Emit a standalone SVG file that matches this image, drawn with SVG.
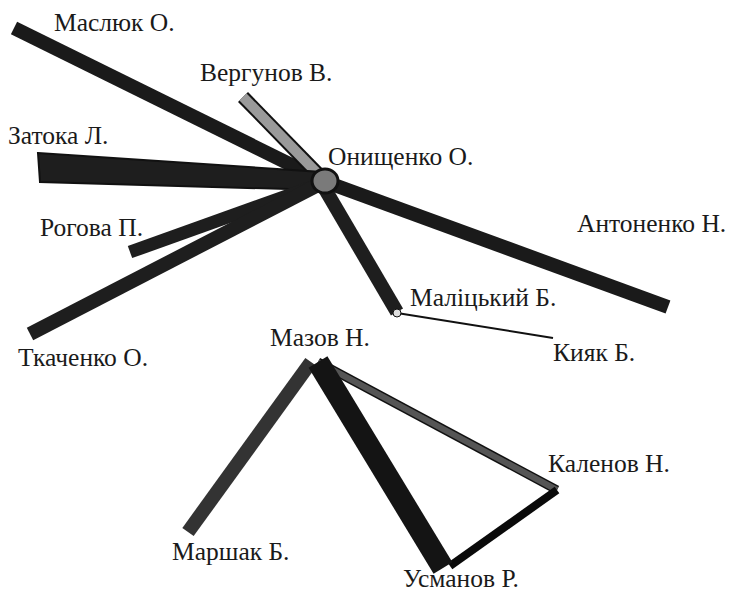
<svg xmlns="http://www.w3.org/2000/svg" width="730" height="593" viewBox="0 0 730 593">
<style>
.lbl{font-family:"Liberation Serif","Times New Roman",serif;font-size:25.5px;fill:#1a1a1a}
.e{stroke-linecap:butt;fill:none}
</style>
<rect width="730" height="593" fill="#fff"/>
<g id="connectors">
<line class="e" x1="14" y1="28" x2="322" y2="180" stroke="#1a1a1a" stroke-width="14"/>
<line class="e" x1="243" y1="97" x2="320" y2="176" stroke="#111" stroke-width="14"/>
<line class="e" x1="243" y1="97" x2="320" y2="176" stroke="#9a9a9a" stroke-width="10"/>
<polygon points="38,153 322,172 322,190 40,182" fill="#1e1e1e" stroke="#111" stroke-width="2"/>
<line class="e" x1="130" y1="252" x2="320" y2="184" stroke="#1e1e1e" stroke-width="13"/>
<line class="e" x1="30" y1="334" x2="320" y2="184" stroke="#1e1e1e" stroke-width="14"/>
<line class="e" x1="326" y1="182" x2="668" y2="307" stroke="#1a1a1a" stroke-width="14"/>
<line class="e" x1="322" y1="184" x2="397" y2="312" stroke="#1e1e1e" stroke-width="14"/>
<line x1="397" y1="313" x2="553" y2="338" stroke="#111" stroke-width="2"/>
<line class="e" x1="311" y1="362" x2="188" y2="532" stroke="#333" stroke-width="14"/>
<line class="e" x1="318" y1="362" x2="557" y2="490" stroke="#111" stroke-width="9"/>
<line class="e" x1="318" y1="362" x2="557" y2="490" stroke="#555" stroke-width="6"/>
<line class="e" x1="557" y1="490" x2="450" y2="566" stroke="#0a0a0a" stroke-width="8"/>
<line class="e" x1="318" y1="362" x2="443" y2="568" stroke="#141414" stroke-width="22"/>
</g>
<g id="n-onyshchenko"><ellipse cx="325" cy="181" rx="13" ry="12" fill="#7a7a7a" stroke="#111" stroke-width="3"/><text class="lbl" x="328" y="165">Онищенко О.</text></g>
<g id="n-masliuk"><text class="lbl" x="54" y="31">Маслюк О.</text></g>
<g id="n-verhunov"><text class="lbl" x="200" y="81">Вергунов В.</text></g>
<g id="n-zatoka"><text class="lbl" x="8" y="144">Затока Л.</text></g>
<g id="n-rohova"><text class="lbl" x="40" y="236">Рогова П.</text></g>
<g id="n-antonenko"><text class="lbl" x="577" y="232">Антоненко Н.</text></g>
<g id="n-malitskyi"><circle cx="397" cy="313" r="4" fill="#ddd" stroke="#111" stroke-width="1"/><text class="lbl" x="410" y="306">Маліцький Б.</text></g>
<g id="n-kyiak"><text class="lbl" x="553" y="361">Кияк Б.</text></g>
<g id="n-tkachenko"><text class="lbl" x="18" y="366">Ткаченко О.</text></g>
<g id="n-mazov"><text class="lbl" x="270" y="346">Мазов Н.</text></g>
<g id="n-kalenov"><text class="lbl" x="548" y="472">Каленов Н.</text></g>
<g id="n-marshak"><text class="lbl" x="172" y="560">Маршак Б.</text></g>
<g id="n-usmanov"><text class="lbl" x="403" y="587">Усманов Р.</text></g>
</svg>
